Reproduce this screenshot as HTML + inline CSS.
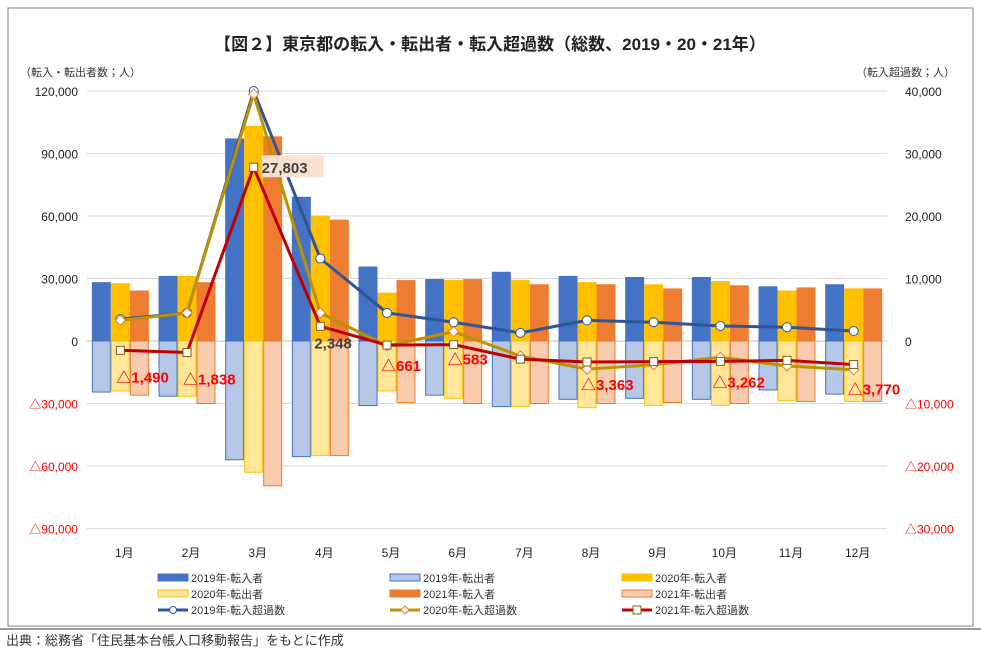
<!DOCTYPE html>
<html><head><meta charset="utf-8">
<style>
body{margin:0;background:#fff;}
svg text{font-family:"Liberation Sans","Noto Sans CJK JP",sans-serif;}
</style></head>
<body>
<svg id="c" width="981" height="655" viewBox="0 0 981 655" xmlns="http://www.w3.org/2000/svg">
<rect x="8" y="8" width="965" height="618" fill="#fff" stroke="#7f7f7f"/>
<text x="490" y="50" text-anchor="middle" font-size="17" font-weight="bold" fill="#222">【図２】東京都の転入・転出者・転入超過数（総数、2019・20・21年）</text>
<text x="20" y="76" font-size="11" fill="#333">（転入・転出者数；人）</text>
<text x="955" y="76" text-anchor="end" font-size="11" fill="#333">（転入超過数；人）</text>
<g id="grid"></g><g id="bars"></g><g id="lines"></g><g id="labels"></g><g id="axes"></g><g id="legend"></g>
<line x1="0" y1="629" x2="981" y2="629" stroke="#333"/>
<text x="6" y="645" font-size="13" fill="#333">出典：総務省「住民基本台帳人口移動報告」をもとに作成</text>
</svg>
<script>
const months=["1月","2月","3月","4月","5月","6月","7月","8月","9月","10月","11月","12月"];
const in2019=[28000,31000,97000,69000,35500,29500,33000,31000,30500,30500,26000,27000];
const in2020=[27500,31000,103000,60000,23000,29000,29000,28000,27000,28500,24000,25000];
const in2021=[24000,28000,98000,58000,29000,29500,27000,27000,25000,26500,25500,25000];
const out2019=[-24500,-26500,-57000,-55500,-31000,-26000,-31500,-28000,-27500,-28000,-23500,-25500];
const out2020=[-24000,-26500,-63000,-55000,-24000,-27500,-31500,-32000,-31000,-31000,-28500,-29000];
const out2021=[-26000,-30000,-69500,-55000,-29500,-30000,-30000,-30000,-29500,-30000,-29000,-29000];
const net2019=[3500,4500,40000,13200,4500,3000,1300,3300,3000,2400,2200,1600];
const net2020=[3300,4500,39500,4500,-800,1500,-2400,-4500,-3800,-2600,-4000,-4600];
const net2021=[-1490,-1838,27803,2348,-661,-583,-2900,-3363,-3300,-3262,-3100,-3770];
const leftTicks=[120000,90000,60000,30000,0,-30000,-60000,-90000];
const rightTicks=[40000,30000,20000,10000,0,-10000,-20000,-30000];

const NS="http://www.w3.org/2000/svg";
const X0=87,PW=800,Y0=341,PX=250/120000;
const cx=i=>X0+(i+0.5)*PW/months.length;
const yL=v=>Y0-v*PX;
const yR=v=>Y0-v*250/40000;
function el(t,a,p){const e=document.createElementNS(NS,t);for(const k in a)e.setAttribute(k,a[k]);document.getElementById(p).appendChild(e);return e;}
const fmt=v=>(v<0?"△":"")+Math.abs(v).toLocaleString("en-US");

leftTicks.forEach((v,i)=>{
  const g=el("line",{x1:X0,x2:X0+PW,y1:yL(v),y2:yL(v),stroke:v===0?"#bfbfbf":"#d9d9d9"},"grid");
  
  
  const t=el("text",{x:78,y:yL(v)+5,"text-anchor":"end","font-size":12,fill:v<0?"#ff0000":"#222"},"axes");
  t.textContent=fmt(v);
  
  
  const r=el("text",{x:905,y:yR(rightTicks[i])+5,"font-size":12,fill:rightTicks[i]<0?"#ff0000":"#222"},"axes");
  r.textContent=fmt(rightTicks[i]);
  
  
});
months.forEach((m,i)=>{
  const t=el("text",{x:cx(i)+4,y:557,"text-anchor":"middle","font-size":12,fill:"#222"},"axes");
  t.textContent=m;
  
  
});
const BW=19;
const series=[
 [in2019,-1,"#4472c4","#4472c4","bar-in-2019"],[in2020,0,"#ffc000","#ffc000","bar-in-2020"],[in2021,1,"#ed7d31","#ed7d31","bar-in-2021"],
 [out2019,-1,"#b4c7e7","#4472c4","bar-out-2019"],[out2020,0,"#ffe699","#ffc000","bar-out-2020"],[out2021,1,"#f8cbad","#ed7d31","bar-out-2021"]];
series.forEach(([arr,off,fill,stroke,name])=>{
  arr.forEach((v,i)=>{
    const x=cx(i)+off*BW-BW/2,y1=yL(Math.max(v,0)),y2=yL(Math.min(v,0));
    const r=el("rect",{x:x+0.5,y:y1,width:BW-1,height:y2-y1,fill:fill,stroke:stroke,"stroke-width":1},"bars");
    
    
  });
});
const lines=[[net2019,"#2f5597","circle","line-net-2019"],[net2020,"#bf9000","diamond","line-net-2020"],[net2021,"#c00000","square","line-net-2021"]];
lines.forEach(([arr,col,mk,name])=>{
  const p=el("polyline",{points:arr.map((v,i)=>cx(i)+","+yR(v)).join(" "),fill:"none",stroke:col,"stroke-width":3,"stroke-linejoin":"round"},"lines");
  
  
  arr.forEach((v,i)=>{
    const x=cx(i),y=yR(v);let m;
    if(mk==="circle")m=el("circle",{cx:x,cy:y,r:4.5,fill:"#fff",stroke:col,"stroke-width":1},"lines");
    else if(mk==="diamond")m=el("path",{d:`M${x} ${y-5}L${x+5} ${y}L${x} ${y+5}L${x-5} ${y}Z`,fill:"#fff",stroke:"#ed7d31","stroke-width":1},"lines");
    else m=el("rect",{x:x-4,y:y-4,width:8,height:8,fill:"#fff",stroke:"#7f6000","stroke-width":1},"lines");
    
    
  });
});
const lblIdx=[0,1,2,3,4,5,7,9,11];
const lblOff={0:[-4,32],1:[-4,32],2:[8,6],3:[-6,22],4:[-6,26],5:[-6,20],7:[-6,28],9:[-8,26],11:[-6,30]};
lblIdx.forEach(i=>{
  const v=net2021[i],o=lblOff[i];
  const pos=v>=0;
  if(i===2){const b=el("rect",{x:cx(i)+o[0],y:yR(v)-12,width:62,height:22,fill:"#fbe0cf"},"labels");}
  const t=el("text",{x:cx(i)+o[0],y:yR(v)+o[1],"font-size":15,"font-weight":"bold",fill:pos?"#404040":"#ff0000"},"labels");
  t.textContent=fmt(v);
  
  
});
const leg=[["2019年-転入者","bar","#4472c4","#4472c4"],["2019年-転出者","bar","#b4c7e7","#4472c4"],["2020年-転入者","bar","#ffc000","#ffc000"],
["2020年-転出者","bar","#ffe699","#ffc000"],["2021年-転入者","bar","#ed7d31","#ed7d31"],["2021年-転出者","bar","#f8cbad","#ed7d31"],
["2019年-転入超過数","circle","#2f5597"],["2020年-転入超過数","diamond","#bf9000"],["2021年-転入超過数","square","#c00000"]];
const colX=[158,390,622],rowY=[578,594,610];
leg.forEach((l,k)=>{
  const x=colX[k%3],y=rowY[Math.floor(k/3)];
  let s;
  if(l[1]==="bar")s=el("rect",{x:x,y:y-4,width:30,height:7,fill:l[2],stroke:l[3]},"legend");
  else{
    s=el("line",{x1:x,x2:x+30,y1:y,y2:y,stroke:l[2],"stroke-width":3},"legend");
    let m;
    if(l[1]==="circle")m=el("circle",{cx:x+15,cy:y,r:3.5,fill:"#fff",stroke:l[2]},"legend");
    else if(l[1]==="diamond")m=el("path",{d:`M${x+15} ${y-4}L${x+19} ${y}L${x+15} ${y+4}L${x+11} ${y}Z`,fill:"#fff",stroke:"#ed7d31"},"legend");
    else m=el("rect",{x:x+11,y:y-4,width:8,height:8,fill:"#fff",stroke:"#7f6000"},"legend");
    
    
  }
  
  
  const t=el("text",{x:x+33,y:y+4,"font-size":11,fill:"#333"},"legend");
  t.textContent=l[0];
  
  
});
</script>
</body></html>
